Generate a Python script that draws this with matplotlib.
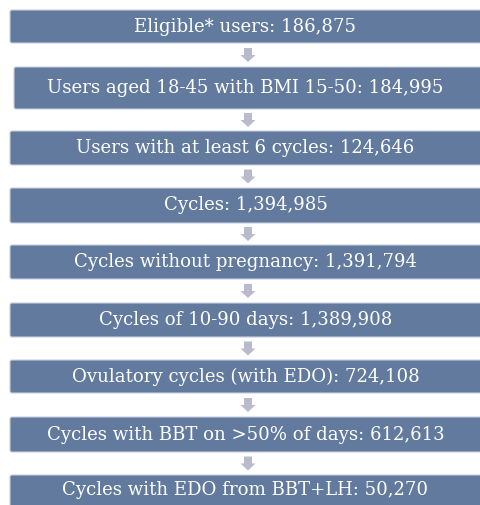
import matplotlib.pyplot as plt
from matplotlib.patches import FancyBboxPatch, Polygon

# 流程图数据
labels = ['Eligible* users', 'Users aged 18-45 with BMI 15-50', 'Users with at least 6 cycles',
          'Cycles', 'Cycles without pregnancy', 'Cycles of 10-90 days',
          'Ovulatory cycles (with EDO)', 'Cycles with BBT on >50% of days',
          'Cycles with EDO from BBT+LH']
counts = [186875, 184995, 124646, 1394985, 1391794, 1389908, 724108, 612613, 50270]

# 版面 (像素坐标)
W, H = 481, 505
box_top = [10, 67, 131, 188, 245, 303, 360, 417, 475]
box_bot = [43, 109, 165, 223, 279, 337, 393, 452, 510]
box_left = [10, 14, 10, 10, 10, 10, 10, 10, 10]
box_right = W + 5
box_color = '#627a9e'
arrow_color = '#b9bbcc'
arrow_x = 248

fig = plt.figure(figsize=(W / 100, H / 100), dpi=100)
fig.set_facecolor('white')
ax = fig.add_axes([0, 0, 1, 1])
ax.set_xlim(0, W)
ax.set_ylim(H, 0)
ax.axis('off')

for i, (lab, n) in enumerate(zip(labels, counts)):
    x0, y0, y1 = box_left[i], box_top[i], box_bot[i]
    ax.add_patch(FancyBboxPatch((x0, y0), box_right - x0, y1 - y0,
                                boxstyle='round,pad=0,rounding_size=2',
                                facecolor=box_color, edgecolor='#c9cde0', linewidth=0.8))
    yc = (y0 + min(y1, H)) / 2
    if i == len(labels) - 1:
        yc = 490
    ax.text((10 + W) / 2, yc, f'{lab}: {n:,}', ha='center', va='center',
            color='white', fontsize=13.1, family='DejaVu Serif')

# 箭头
for i in range(len(labels) - 1):
    g0, g1 = box_bot[i], box_top[i + 1]
    mid = (g0 + g1) / 2
    t, b = mid - 7, mid + 7
    hw, sw = 7.5, 4
    pts = [(arrow_x - sw, t), (arrow_x + sw, t), (arrow_x + sw, mid),
           (arrow_x + hw, mid), (arrow_x, b), (arrow_x - hw, mid), (arrow_x - sw, mid)]
    ax.add_patch(Polygon(pts, closed=True, facecolor=arrow_color, edgecolor='none'))

plt.savefig('out.png', dpi=100)
